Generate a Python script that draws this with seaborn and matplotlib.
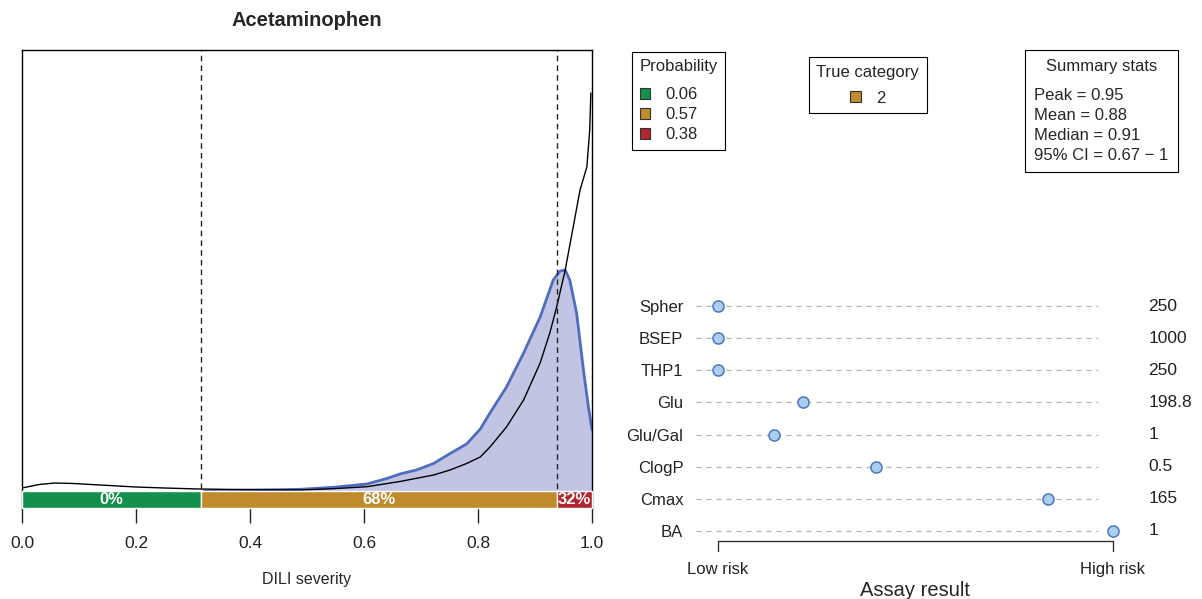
import seaborn as sns
import matplotlib.pyplot as plt
from matplotlib.patches import Patch
from matplotlib.lines import Line2D

# DILI severity density (posterior, blue)
blue_x = [0.32, 0.35, 0.40, 0.45, 0.488, 0.546, 0.605, 0.64, 0.663, 0.692, 0.722,
          0.751, 0.78, 0.804, 0.821, 0.85, 0.88, 0.909, 0.932, 0.944, 0.953,
          0.961, 0.973, 0.985, 0.9935, 1.0]
blue_y = [0.0, 0.01, 0.02, 0.026, 0.034, 0.074, 0.14, 0.25, 0.34, 0.42, 0.55,
          0.75, 0.94, 1.24, 1.56, 2.08, 2.76, 3.48, 4.22, 4.40, 4.42,
          4.22, 3.56, 2.42, 1.70, 1.22]

# reference density (black line)
black_x = [0.0, 0.03, 0.058, 0.09, 0.137, 0.2, 0.25, 0.31, 0.4, 0.488, 0.546,
           0.605, 0.663, 0.722, 0.751, 0.78, 0.804, 0.821, 0.85, 0.88, 0.909,
           0.926, 0.938, 0.953, 0.967, 0.979, 0.991, 0.996, 0.998]
black_y = [0.06, 0.13, 0.16, 0.15, 0.12, 0.08, 0.06, 0.04, 0.026, 0.02, 0.046,
           0.086, 0.19, 0.32, 0.42, 0.55, 0.68, 0.88, 1.28, 1.82, 2.56,
           3.16, 3.68, 4.42, 5.28, 6.02, 6.48, 7.22, 7.96]

# category zones
zone_edges = [0.0, 0.314, 0.939, 1.0]
zone_pct = ["0%", "68%", "32%"]
zone_colors = ["#13904b", "#bf8b2d", "#b1262d"]
prob_labels = ["0.06", "0.57", "0.38"]
true_category = "2"

summary_lines = ["Peak = 0.95", "Mean = 0.88", "Median = 0.91", "95% CI = 0.67 \u2212 1"]

# assays
assay_names = ["Spher", "BSEP", "THP1", "Glu", "Glu/Gal", "ClogP", "Cmax", "BA"]
assay_scores = [0.0, 0.0, 0.0, 0.215, 0.142, 0.40, 0.835, 1.0]
assay_values = ["250", "1000", "250", "198.8", "1", "0.5", "165", "1"]

sns.set_style("white")
plt.rcParams['font.family'] = ['Liberation Sans', 'DejaVu Sans']

W, H = 1202, 599
fig = plt.figure(figsize=(W / 100, H / 100), dpi=100)

# ---- left: density panel ----
ax = fig.add_axes([22 / W, (H - 508) / H, 570 / W, 458 / H])
ax.fill_between(blue_x, blue_y, color="#c1c4e3", lw=0, zorder=1)
sns.lineplot(x=blue_x, y=blue_y, color="#4f6cbf", lw=2.0, ax=ax, zorder=2)
sns.lineplot(x=black_x, y=black_y, color="black", lw=1.0, ax=ax, zorder=3)
for xv in zone_edges[1:3]:
    ax.axvline(xv, color="#222222", ls=(0, (4, 3)), lw=1.0, zorder=4)

lefts = zone_edges[:-1]
widths = [b - a for a, b in zip(zone_edges[:-1], zone_edges[1:])]
ax.barh(y=[-0.17] * 3, width=widths, left=lefts, height=0.34, color=zone_colors,
        zorder=5, clip_on=False)
for a, w, t in zip(lefts, widths, zone_pct):
    ax.text(a + w / 2, -0.17, t, color="white", fontweight="bold", fontsize=12,
            ha="center", va="center", zorder=6)

ax.set_xlim(0, 1)
ax.set_ylim(-0.34, 8.82)
ax.set_yticks([])
ax.set_xticks([0, 0.2, 0.4, 0.6, 0.8, 1.0])
ax.set_xticklabels(["0.0", "0.2", "0.4", "0.6", "0.8", "1.0"])
ax.tick_params(axis="x", direction="out", length=11, width=1, pad=9, labelsize=12.5,
               bottom=True, colors="#222222")
ax.spines["bottom"].set_visible(False)
for s in ["left", "top", "right"]:
    ax.spines[s].set_color("black")
    ax.spines[s].set_linewidth(1)
ax.set_xlabel("DILI severity", fontsize=11.5, labelpad=15)
ax.set_ylabel("")
fig.text(307 / W, 1 - 20 / H, "Acetaminophen", fontsize=14.5, fontweight="bold",
         ha="center", va="center")

# ---- right: assay dot plot ----
ax2 = fig.add_axes([718 / W, (H - 547) / H, 395 / W, 257 / H])
ax2.hlines(range(len(assay_names)), -0.055, 0.962, colors="#b3b3b3",
           linestyles=(0, (4, 4)), lw=0.9, clip_on=False, zorder=1)
sns.stripplot(x=assay_scores, y=assay_names, jitter=False, size=8,
              color="#a9cff0", edgecolor="#4f76b9", linewidth=1.1, ax=ax2, zorder=3)
for c in ax2.collections:
    c.set_clip_on(False)
ax2.set_xlim(0, 1)
ax2.set_ylim(len(assay_names) - 0.5, -0.5)
ax2.set_xticks([])
ax2.tick_params(axis="y", length=0, pad=25, labelsize=12, colors="#222222")
for s in ax2.spines.values():
    s.set_visible(False)
for i, v in enumerate(assay_values):
    ax2.text(1.089, i, v, ha="left", va="center", fontsize=12.5, color="#222222")

yb = 7.31
ax2.plot([0, 0, 1, 1], [yb + 0.3, yb, yb, yb + 0.3], color="#333333", lw=1.0,
         clip_on=False)
ax2.text(0, 8.2, "Low risk", ha="center", va="center", fontsize=12, color="#222222")
ax2.text(1, 8.2, "High risk", ha="center", va="center", fontsize=12, color="#222222")
ax2.text(0.5, 8.85, "Assay result", ha="center", va="center", fontsize=14.5)

# ---- legends ----
common = dict(loc="upper left", fontsize=12, title_fontsize=12, frameon=True,
              fancybox=False, edgecolor="black", framealpha=1, borderaxespad=0)

prob_handles = [Patch(facecolor=c, edgecolor="#333333", lw=0.8) for c in zone_colors]
leg1 = fig.legend(prob_handles, prob_labels, title="Probability",
                  bbox_to_anchor=(632 / W, 1 - 52 / H), handlelength=0.65,
                  handleheight=0.65, handletextpad=0.9, labelspacing=0.3,
                  borderpad=0.45, alignment="left", **common)
leg1._legend_box.sep = 9
leg1.get_frame().set_linewidth(0.8)

true_handle = [Patch(facecolor=zone_colors[1], edgecolor="#333333", lw=0.8)]
leg2 = fig.legend(true_handle, [true_category], title="True category",
                  bbox_to_anchor=(809 / W, 1 - 57 / H), handlelength=0.65,
                  handleheight=0.65, handletextpad=0.9, borderpad=0.45,
                  alignment="center", **common)
leg2._legend_box.sep = 8
leg2.get_frame().set_linewidth(0.8)

blank = [Line2D([], [], lw=0) for _ in summary_lines]
leg3 = fig.legend(blank, summary_lines, title="Summary stats",
                  bbox_to_anchor=(1025 / W, 1 - 50 / H), handlelength=0,
                  handletextpad=0, labelspacing=0.3, borderpad=0.55,
                  alignment="center", **common)
leg3._legend_box.sep = 10
leg3.get_frame().set_linewidth(0.8)

fig.savefig("out.png", dpi=100)
